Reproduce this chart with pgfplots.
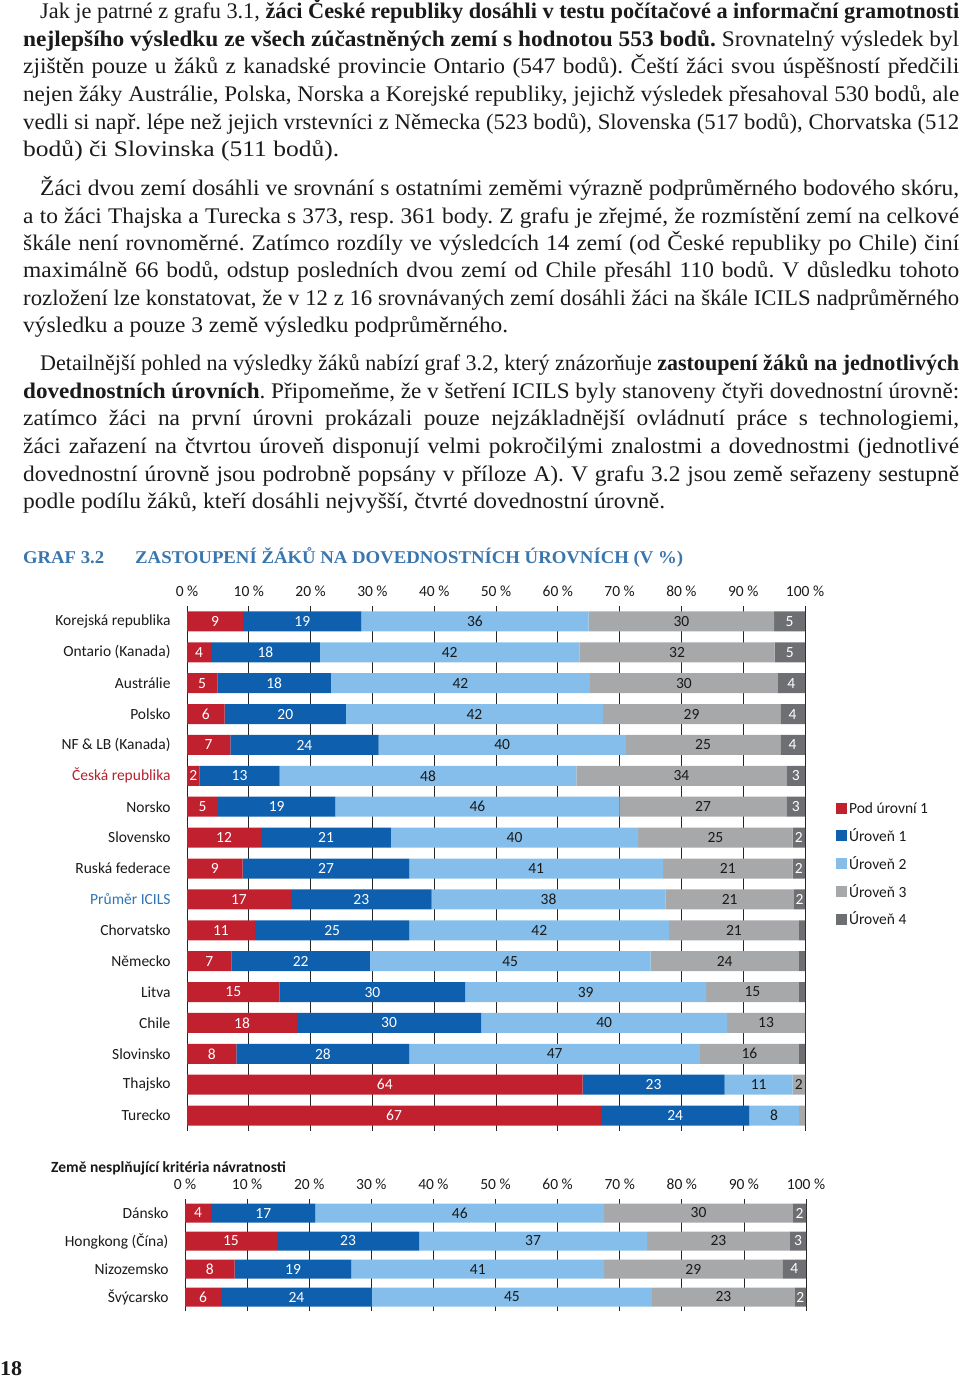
\documentclass[border=0pt]{standalone}
\usepackage{pgfplots}
\pgfplotsset{compat=1.18}
\usepackage{pgfplotstable}
\usepackage{graphicx}
\usepackage{fontspec}
\setmainfont{Liberation Serif}[FakeStretch=1.05]
\newfontfamily\calib{Carlito}
\definecolor{cRed}{HTML}{C1202F}
\definecolor{cDBlue}{HTML}{0E5FAD}
\definecolor{cLBlue}{HTML}{85BEEA}
\definecolor{cGrey}{HTML}{A7A8AA}
\definecolor{cDGrey}{HTML}{6E6F72}
\definecolor{cTitle}{HTML}{3A76AE}
\definecolor{cCZ}{HTML}{B5202E}
\definecolor{cAvg}{HTML}{2F74B5}
\definecolor{cTxt}{HTML}{1A1A1A}
\frenchspacing

\newcommand\body{\fontsize{22.3}{27.5}\selectfont}
\newsavebox\lbox
\newcommand\fitline[2]{\sbox\lbox{#2}\ifdim\wd\lbox<#1\relax\hbox to #1{#2}\else\resizebox{#1}{\height}{\usebox\lbox}\fi}
\newcommand\tline[4]{\node[anchor=base west,inner sep=0pt,text=cTxt] at (#1pt,-#2pt) {\body\fitline{#3pt}{#4}};}
\newcommand\tlast[4]{\node[anchor=base west,inner sep=0pt,text=cTxt] at (#1pt,-#2pt) {\body\resizebox{#3pt}{\height}{#4}};}

\pgfplotstableread{
y a b c d e la lb lc ld le
16 9.1 19.1 36.8 30.0 5.0 9 19 36 30 5
15 3.9 17.6 42.0 31.6 4.9 4 18 42 32 5
14 4.9 18.4 41.9 30.4 4.4 5 18 42 30 4
13 6.1 19.6 41.6 28.7 4.0 6 20 42 29 4
12 7 24 40 25 4 7 24 40 25 4
11 2 13 48 34 3 2 13 48 34 3
10 5 19 46 27 3 5 19 46 27 3
9 12 21 40 25 2 12 21 40 25 2
8 9 27 41 21 2 9 27 41 21 2
7 16.8 22.8 37.8 20.8 1.8 17 23 38 21 2
6 11 25 42 21 1 11 25 42 21 {}
5 7.2 22.4 45.4 24.0 1.0 7 22 45 24 {}
4 15 30 39 15 1 15 30 39 15 {}
3 17.8 29.8 39.8 12.6 0 18 30 40 13 {}
2 8 28 47 16 1 8 28 47 16 {}
1 64 23 11 2 0 64 23 11 2 {}
0 67 24 8 1 0 67 24 8 {} {}
}\maindata

\pgfplotstableread{
y a b c d e la lb lc ld le
3 4.2 16.8 46.5 30.4 2.1 4 17 46 30 2
2 14.8 22.9 36.7 23.0 2.6 15 23 37 23 3
1 8.0 18.8 40.7 28.7 3.8 8 19 41 29 4
0 5.8 24.3 45.1 23.0 1.8 6 24 45 23 2
}\smalldata

\pgfplotstablecreatecol[create col/expr={\thisrow{a}/2}]{ma}{\maindata}
\pgfplotstablecreatecol[create col/expr={\thisrow{a}+\thisrow{b}/2}]{mb}{\maindata}
\pgfplotstablecreatecol[create col/expr={\thisrow{a}+\thisrow{b}+\thisrow{c}/2}]{mc}{\maindata}
\pgfplotstablecreatecol[create col/expr={\thisrow{a}+\thisrow{b}+\thisrow{c}+\thisrow{d}/2}]{md}{\maindata}
\pgfplotstablecreatecol[create col/expr={\thisrow{a}+\thisrow{b}+\thisrow{c}+\thisrow{d}+\thisrow{e}/2}]{me}{\maindata}
\pgfplotstablecreatecol[create col/expr={\thisrow{a}/2}]{ma}{\smalldata}
\pgfplotstablecreatecol[create col/expr={\thisrow{a}+\thisrow{b}/2}]{mb}{\smalldata}
\pgfplotstablecreatecol[create col/expr={\thisrow{a}+\thisrow{b}+\thisrow{c}/2}]{mc}{\smalldata}
\pgfplotstablecreatecol[create col/expr={\thisrow{a}+\thisrow{b}+\thisrow{c}+\thisrow{d}/2}]{md}{\smalldata}
\pgfplotstablecreatecol[create col/expr={\thisrow{a}+\thisrow{b}+\thisrow{c}+\thisrow{d}+\thisrow{e}/2}]{me}{\smalldata}

\newcommand\cfont{\calib\fontsize{15.5}{18}\selectfont}

\pgfplotsset{
  barbase/.style={
    scale only axis, xmin=0, xmax=100,
    axis line style={draw=none},
    major tick length=0pt, tick style={draw=none},
    xtick={0,10,...,100},
    xticklabels={0 \%,10 \%,20 \%,30 \%,40 \%,50 \%,60 \%,70 \%,80 \%,90 \%,100 \%},
    xticklabel pos=right,
    xmajorgrids, grid style={draw=black!85, line width=0.8pt},
    tick label style={font=\cfont, text=cTxt},
    xticklabel style={yshift=5.5pt},
    yticklabel style={xshift=-13pt},
    xbar stacked, clip=false,
  },
  lblbase/.style={
    scale only axis, xmin=0, xmax=100, hide axis, clip=false,
  },
  lbl/.style={draw=none, nodes near coords, point meta=explicit symbolic,
    nodes near coords style={anchor=center, font=\cfont, text=#1, inner sep=0pt}},
}

\begin{document}
\begin{tikzpicture}[x=1pt,y=1pt]
\useasboundingbox (0,0) rectangle (960,-1378);

% paragraph 1
\tline{40}{19}{919}{Jak je patrné z grafu 3.1, \textbf{žáci České republiky dosáhli v testu počítačové a informační gramotnosti}}
\tline{23}{46.5}{936}{\textbf{nejlepšího výsledku ze všech zúčastněných zemí s hodnotou 553 bodů.} Srovnatelný výsledek byl}
\tline{23}{74}{936}{zjištěn pouze u žáků z kanadské provincie Ontario (547 bodů). Čeští žáci svou úspěšností předčili}
\tline{23}{101.5}{936}{nejen žáky Austrálie, Polska, Norska a Korejské republiky, jejichž výsledek přesahoval 530 bodů, ale}
\tline{23}{129}{936}{vedli si např. lépe než jejich vrstevníci z Německa (523 bodů), Slovenska (517 bodů), Chorvatska (512}
\tlast{23}{156.5}{316}{bodů) či Slovinska (511 bodů).}
% paragraph 2
\tline{40}{195}{919}{Žáci dvou zemí dosáhli ve srovnání s ostatními zeměmi výrazně podprůměrného bodového skóru,}
\tline{23}{223}{936}{a to žáci Thajska a Turecka s 373, resp. 361 body. Z grafu je zřejmé, že rozmístění zemí na celkové}
\tline{23}{250}{936}{škále není rovnoměrné. Zatímco rozdíly ve výsledcích 14 zemí (od České republiky po Chile) činí}
\tline{23}{277.5}{936}{maximálně 66 bodů, odstup posledních dvou zemí od Chile přesáhl 110 bodů. V důsledku tohoto}
\tline{23}{305}{936}{rozložení lze konstatovat, že v 12 z 16 srovnávaných zemí dosáhli žáci na škále ICILS nadprůměrného}
\tlast{23}{332.5}{485}{výsledku a pouze 3 země výsledku podprůměrného.}
% paragraph 3
\tline{40}{370}{919}{Detailnější pohled na výsledky žáků nabízí graf 3.2, který znázorňuje \textbf{zastoupení žáků na jednotlivých}}
\tline{23}{398}{936}{\textbf{dovednostních úrovních}. Připomeňme, že v šetření ICILS byly stanoveny čtyři dovednostní úrovně:}
\tline{23}{425}{936}{zatímco žáci na první úrovni prokázali pouze nejzákladnější ovládnutí práce s technologiemi,}
\tline{23}{453}{936}{žáci zařazení na čtvrtou úroveň disponují velmi pokročilými znalostmi a dovednostmi (jednotlivé}
\tline{23}{481}{936}{dovednostní úrovně jsou podrobně popsány v příloze A). V grafu 3.2 jsou země seřazeny sestupně}
\tlast{23}{508}{642}{podle podílu žáků, kteří dosáhli nejvyšší, čtvrté dovednostní úrovně.}

% chart title
\node[anchor=base west,inner sep=0pt,text=cTitle] at (23,-563) {\fontsize{18}{20}\selectfont\bfseries\resizebox{81pt}{\height}{GRAF 3.2}};
\node[anchor=base west,inner sep=0pt,text=cTitle] at (135,-563) {\fontsize{18}{20}\selectfont\bfseries\resizebox{548pt}{\height}{ZASTOUPENÍ ŽÁKŮ NA DOVEDNOSTNÍCH ÚROVNÍCH (V \%)}};

% main chart
\begin{axis}[barbase,
  at={(187pt,-1131pt)}, anchor=south west,
  width=618pt, height=525pt,
  ymin=-0.5, ymax=16.5, bar width=20pt,
  ytick={0,...,16},
  yticklabels={Turecko,Thajsko,Slovinsko,Chile,Litva,Německo,Chorvatsko,{\color{cAvg}Průměr ICILS},Ruská federace,Slovensko,Norsko,{\color{cCZ}Česká republika},NF \& LB (Kanada),Polsko,Austrálie,Ontario (Kanada),Korejská republika},
  legend style={at={(1.050,0.630)}, anchor=north west, draw=none, fill=none, inner sep=0pt,
    font=\cfont, text=cTxt, row sep=9.5pt, /tikz/every even column/.append style={column sep=5pt}},
  legend cell align=left,
  legend image code/.code={\fill[#1] (0pt,-5.5pt) rectangle (11pt,5.5pt);},
]
\addplot[fill=cRed, draw=none] table[x=a,y=y] {\maindata};
\addplot[fill=cDBlue, draw=none] table[x=b,y=y] {\maindata};
\addplot[fill=cLBlue, draw=none] table[x=c,y=y] {\maindata};
\addplot[fill=cGrey, draw=none] table[x=d,y=y] {\maindata};
\addplot[fill=cDGrey, draw=none] table[x=e,y=y] {\maindata};
\legend{Pod úrovní 1,Úroveň 1,Úroveň 2,Úroveň 3,Úroveň 4}
\end{axis}
\begin{axis}[lblbase,
  at={(187pt,-1131pt)}, anchor=south west,
  width=618pt, height=525pt, ymin=-0.5, ymax=16.5]
\addplot[lbl=white] table[x=ma,y=y,meta=la] {\maindata};
\addplot[lbl=white] table[x=mb,y=y,meta=lb] {\maindata};
\addplot[lbl=cTxt] table[x=mc,y=y,meta=lc] {\maindata};
\addplot[lbl=cTxt] table[x=md,y=y,meta=ld] {\maindata};
\addplot[lbl=white] table[x=me,y=y,meta=le] {\maindata};
\end{axis}

% small chart
\node[anchor=base west,inner sep=0pt,text=cTxt] at (51,-1172) {\cfont\bfseries Země nesplňující kritéria návratnosti};
\begin{axis}[barbase,
  at={(185pt,-1311pt)}, anchor=south west,
  width=621pt, height=112pt,
  ymin=-0.5, ymax=3.5, bar width=19pt,
  ytick={0,...,3},
  yticklabels={Švýcarsko,Nizozemsko,Hongkong (Čína),Dánsko},
]
\addplot[fill=cRed, draw=none] table[x=a,y=y] {\smalldata};
\addplot[fill=cDBlue, draw=none] table[x=b,y=y] {\smalldata};
\addplot[fill=cLBlue, draw=none] table[x=c,y=y] {\smalldata};
\addplot[fill=cGrey, draw=none] table[x=d,y=y] {\smalldata};
\addplot[fill=cDGrey, draw=none] table[x=e,y=y] {\smalldata};
\end{axis}
\begin{axis}[lblbase,
  at={(185pt,-1311pt)}, anchor=south west,
  width=621pt, height=112pt, ymin=-0.5, ymax=3.5]
\addplot[lbl=white] table[x=ma,y=y,meta=la] {\smalldata};
\addplot[lbl=white] table[x=mb,y=y,meta=lb] {\smalldata};
\addplot[lbl=cTxt] table[x=mc,y=y,meta=lc] {\smalldata};
\addplot[lbl=cTxt] table[x=md,y=y,meta=ld] {\smalldata};
\addplot[lbl=white] table[x=me,y=y,meta=le] {\smalldata};
\end{axis}

% page number
\node[anchor=base west,inner sep=0pt,text=cTxt] at (0,-1375) {\fontsize{21}{24}\selectfont\bfseries 18};
\end{tikzpicture}
\end{document}
